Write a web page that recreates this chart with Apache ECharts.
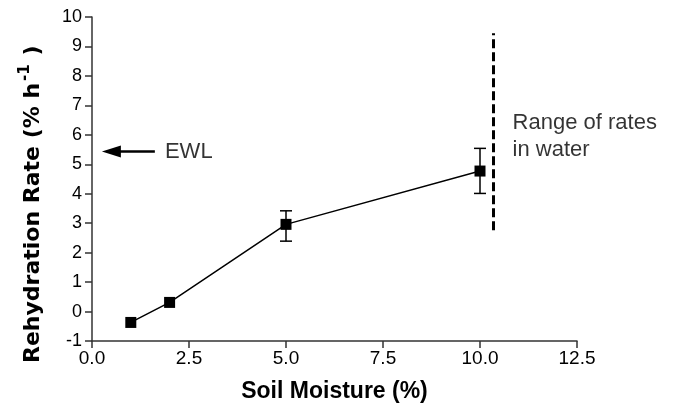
<!DOCTYPE html>
<html>
<head>
<meta charset="utf-8">
<script src="https://cdn.jsdelivr.net/npm/echarts@6/dist/echarts.min.js"></script>
<style>html,body{margin:0;padding:0;background:#fff;}#c{width:676px;height:404px;}</style>
</head>
<body>
<div id="c"></div>
<script>
// ---- data ----
const soilMoisture = [1, 2, 5, 10];
const rehydrationRate = [-0.37, 0.31, 2.96, 4.77];
const errLow = [null, null, 2.39, 4.01];
const errHigh = [null, null, 3.42, 5.54];
const xTickValues = [0, 2.5, 5, 7.5, 10, 12.5];
const yTickValues = [-1, 0, 1, 2, 3, 4, 5, 6, 7, 8, 9, 10];
const waterRangeX = [10.35];
const waterRangeY = [2.76, 9.45];
const ewlRate = [5.43];
const ewlArrowX = [1.62, 0.5];
const ewlLabel = ['EWL'];
const waterLabel = ['Range of rates\nin water'];
const ewlLabelPos = [1.88, 5.43];
const waterLabelPos = [10.84, 5.95];

const FONT = '"Liberation Sans", Arial, sans-serif';
const TITLEFONT = '"DejaVu Sans", sans-serif';
const chart = echarts.init(document.getElementById('c'), null, {renderer: 'canvas'});

const errData = soilMoisture.map((x, i) => [x, errLow[i], errHigh[i]]).filter(d => d[1] !== null);

const axisCommon = {
  axisLine: {show: true, onZero: false, lineStyle: {color: '#333', width: 1.5}},
  axisTick: {show: true, inside: false, length: 7, lineStyle: {color: '#333', width: 1.5}},
  splitLine: {show: false},
};

const option = {
  backgroundColor: '#fff',
  animation: false,
  grid: {left: 92, right: 99, top: 17, bottom: 63, containLabel: false, outerBoundsMode: 'none'},
  xAxis: Object.assign({
    type: 'value', min: xTickValues[0], max: xTickValues[xTickValues.length - 1], interval: 2.5,
    axisLabel: {formatter: v => v.toFixed(1), fontSize: 19, color: '#000', margin: 8, fontFamily: FONT},
    name: 'Soil Moisture (%)', nameLocation: 'middle', nameGap: 39,
    nameTextStyle: {fontSize: 23, fontWeight: 'bold', color: '#000', fontFamily: FONT}
  }, axisCommon),
  yAxis: Object.assign({
    type: 'value', min: yTickValues[0], max: yTickValues[yTickValues.length - 1], interval: 1,
    axisLabel: {fontSize: 18, color: '#000', margin: 10, fontFamily: FONT}
  }, axisCommon),
  graphic: [{
    type: 'text', rotation: Math.PI / 2,
    x: 33, y: 363,
    style: {
      text: 'Rehydration Rate (% h{sup|-1}{p| )}',
      rich: {
        sup: {fontSize: 15, fontWeight: 'bold', fontFamily: TITLEFONT, fill: '#000', padding: [0, 1, 16, 2]},
        p: {fontSize: 22, fontWeight: 'bold', fontFamily: TITLEFONT, fill: '#000'}
      },
      fontSize: 22, fontWeight: 'bold', fontFamily: TITLEFONT, fill: '#000',
      align: 'left', verticalAlign: 'middle'
    }
  }],
  series: [
    {
      type: 'line', data: soilMoisture.map((x, i) => [x, rehydrationRate[i]]),
      symbol: 'rect', symbolSize: 11, itemStyle: {color: '#000'},
      lineStyle: {color: '#000', width: 1.5}, z: 3,
      markLine: {
        silent: true, animation: false,
        symbol: ['none', 'none'],
        label: {show: false},
        data: [
          [{coord: [waterRangeX[0], waterRangeY[0]], lineStyle: {type: [9, 4], width: 3, color: '#000'}},
           {coord: [waterRangeX[0], waterRangeY[1]]}],
          [{coord: [ewlArrowX[0], ewlRate[0]], symbol: 'none', lineStyle: {type: 'solid', width: 2.5, color: '#000'}},
           {coord: [ewlArrowX[1], ewlRate[0]], symbol: 'triangle', symbolSize: [12, 19]}]
        ]
      }
    },
    {
      type: 'custom', data: errData, z: 2,
      renderItem: function (params, api) {
        const x = api.value(0);
        const lo = api.coord([x, api.value(1)]);
        const hi = api.coord([x, api.value(2)]);
        const hw = 6;
        const st = {stroke: '#000', lineWidth: 1.5};
        return {type: 'group', children: [
          {type: 'line', shape: {x1: lo[0], y1: lo[1], x2: hi[0], y2: hi[1]}, style: st},
          {type: 'line', shape: {x1: lo[0] - hw, y1: lo[1], x2: lo[0] + hw, y2: lo[1]}, style: st},
          {type: 'line', shape: {x1: hi[0] - hw, y1: hi[1], x2: hi[0] + hw, y2: hi[1]}, style: st}
        ]};
      }
    },
    {
      type: 'scatter', symbolSize: 0, silent: true,
      data: [
        {value: ewlLabelPos, label: {formatter: ewlLabel[0]}},
        {value: waterLabelPos, label: {formatter: waterLabel[0]}}
      ],
      label: {show: true, position: 'right', distance: 0, fontSize: 22, lineHeight: 27, color: '#000', fontFamily: FONT, align: 'left'}
    }
  ]
};
chart.setOption(option);
</script>
</body>
</html>
